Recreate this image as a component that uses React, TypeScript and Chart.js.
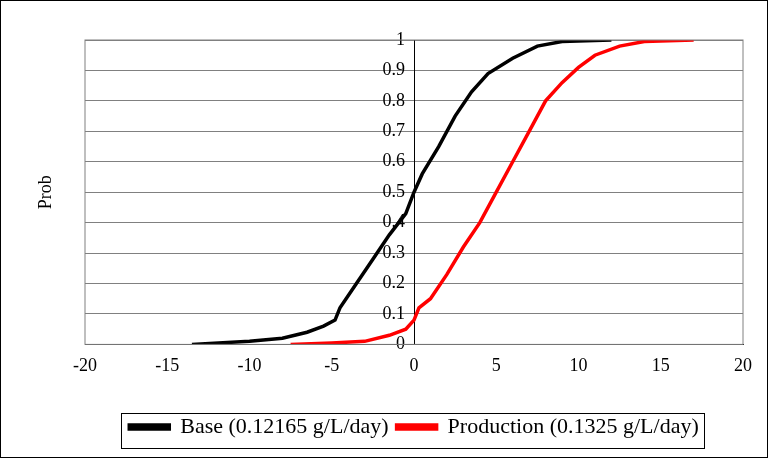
import Chart from 'chart.js/auto'
import { useEffect, useRef } from 'react'

const baseX = [-13.5, -10, -8, -6.5, -5.5, -4.8, -4.5, -3.5, -2.5, -1.5, -0.5, 0, 0.5, 1.5, 2.5, 3.5, 4.5, 6, 7.5, 9, 12]
const baseP = [0, 0.01, 0.02, 0.04, 0.06, 0.08, 0.12, 0.2, 0.28, 0.36, 0.43, 0.5, 0.56, 0.65, 0.75, 0.83, 0.89, 0.94, 0.98, 0.995, 1]
const prodX = [-7.5, -5, -3, -1.5, -0.5, 0, 0.3, 1, 2, 3, 4, 5, 6, 7, 8, 9, 10, 11, 12.5, 14, 17]
const prodP = [0, 0.005, 0.01, 0.03, 0.05, 0.08, 0.12, 0.15, 0.23, 0.32, 0.4, 0.5, 0.6, 0.7, 0.8, 0.86, 0.91, 0.95, 0.98, 0.995, 1]
const labels = ['Base (0.12165 g/L/day)', 'Production (0.1325 g/L/day)']

const font = { family: '"Liberation Serif", serif', size: 18 }

const frame = {
  id: 'frame',
  afterDraw(chart: any) {
    const { ctx, chartArea: a, legend } = chart
    ctx.save()
    ctx.strokeStyle = '#000'
    ctx.lineWidth = 1
    ctx.strokeRect(0.5, 0.5, chart.width - 1, chart.height - 1)
    ctx.strokeStyle = '#808080'
    ctx.strokeRect(a.left, a.top, a.right - a.left, a.bottom - a.top)
    const boxes = legend.legendHitBoxes
    if (boxes && boxes.length) {
      const l = boxes[0].left - 8
      const last = boxes[boxes.length - 1]
      const r = last.left + last.width + 6
      ctx.strokeStyle = '#000'
      ctx.strokeRect(Math.round(l) + 0.5, 413.5, Math.round(r - l), 35)
    }
    ctx.fillStyle = '#000'
    ctx.font = '18px "Liberation Serif", serif'
    ctx.translate(46, (a.top + a.bottom) / 2)
    ctx.rotate(-Math.PI / 2)
    ctx.textAlign = 'center'
    ctx.textBaseline = 'middle'
    ctx.fillText('Prob', 0, 0)
    ctx.restore()
  },
}

export default function App() {
  const canvas = useRef<HTMLCanvasElement>(null)
  useEffect(() => {
    if (!canvas.current) return
    const chart = new Chart(canvas.current, {
      type: 'line',
      data: {
        datasets: [
          { label: labels[0], data: baseX.map((x, i) => ({ x, y: baseP[i] })), borderColor: '#000', backgroundColor: '#000', borderWidth: 3.5, pointRadius: 0 },
          { label: labels[1], data: prodX.map((x, i) => ({ x, y: prodP[i] })), borderColor: '#ff0000', backgroundColor: '#ff0000', borderWidth: 3.5, pointRadius: 0 },
        ],
      },
      options: {
        animation: false,
        responsive: false,
        layout: { padding: { left: 85, right: 25, top: 40, bottom: 10 } },
        scales: {
          x: {
            type: 'linear', min: -20, max: 20,
            ticks: { stepSize: 5, color: '#000', font },
            grid: { display: false, drawTicks: true },
            border: { color: '#000' },
            afterFit: (s: any) => { s.height += 28 },
          },
          y: {
            position: { x: 0 } as any, min: 0, max: 1,
            ticks: { stepSize: 0.1, color: '#000', font, callback: (v: any) => String(Math.round(v * 10) / 10) + '  ' },
            grid: { color: (c: any) => (c.tick && c.tick.value === 0 ? 'rgba(0,0,0,0)' : '#808080'), drawTicks: false },
            border: { color: '#000' },
          },
        },
        plugins: {
          legend: {
            position: 'bottom',
            labels: { color: '#000', font: { family: '"Liberation Serif", serif', size: 22 }, boxWidth: 40, boxHeight: 4, padding: 8 },
          },
          tooltip: { enabled: false },
        },
      },
      plugins: [frame],
    })
    return () => chart.destroy()
  }, [])
  return (
    <div style={{ position: 'fixed', left: 0, top: 0, background: '#fff' }}>
      <canvas ref={canvas} width={768} height={458} />
    </div>
  )
}
